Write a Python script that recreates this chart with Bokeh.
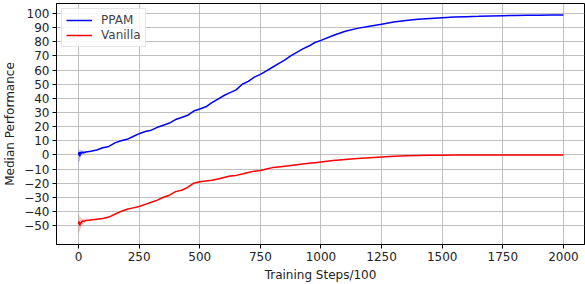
from bokeh.plotting import figure
from bokeh.models import FixedTicker, Range1d, Legend, LegendItem
from bokeh.embed import file_html
from bokeh.resources import INLINE

steps = [0, 2, 5, 8, 10, 15, 20, 30, 50, 75, 100, 125, 150, 175, 200, 225, 250, 275, 300,
         325, 350, 375, 400, 425, 450, 475, 500, 525, 550, 575, 600, 625, 650, 675, 700,
         725, 750, 775, 800, 825, 850, 875, 900, 925, 950, 975, 1000, 1050, 1100, 1150,
         1200, 1250, 1300, 1350, 1400, 1450, 1500, 1550, 1600, 1650, 1700, 1750, 1800,
         1850, 1900, 1950, 2000]

ppam = [0, 2, -1, 2, 1, 2, 1.5, 2, 2.5, 3.5, 5, 6, 8.5, 10, 11, 13, 15, 16.5, 17.5,
        19.5, 21, 22.5, 25, 26.5, 28, 31, 32.5, 34, 37, 39.5, 42, 44, 46, 50, 52,
        55, 57, 59.5, 62, 64.5, 67, 70, 72.5, 75, 77, 79.5, 81, 84.5, 87.5, 89.5,
        91, 92.5, 94, 95, 96, 96.5, 97, 97.5, 97.8, 98, 98.3, 98.5, 98.6,
        98.7, 98.8, 98.9, 99]

vanilla = [-49, -47, -50, -48, -48, -47, -47, -46.5, -46, -45.5, -45, -44, -42, -40, -38.5,
           -37.5, -36.5, -35, -33.5, -32, -30, -28.5, -26, -25, -23, -20, -19, -18.5, -18,
           -17, -16, -15, -14.5, -13.5, -12.5, -11.5, -11, -10, -9, -8.5, -8, -7.5, -7,
           -6.5, -6, -5.5, -5, -4, -3.2, -2.5, -2, -1.5, -1, -0.7, -0.5, -0.3, -0.2,
           -0.1, -0.1, 0, 0, 0, 0, 0, 0, 0, 0]

band_steps = [0, 2, 5, 8, 10, 15, 20, 30]
ppam_low = [-10, -4, -5, -1, -1, 0.5, 0.5, 1]
ppam_high = [5, 4, 3, 4, 3, 3.5, 3, 3]
van_low = [-57, -53, -55, -52, -51, -49, -48.5, -47.5]
van_high = [-42, -42, -44, -44, -45, -45, -45.5, -45.5]

x_ticks = [0, 250, 500, 750, 1000, 1250, 1500, 1750, 2000]
y_ticks = list(range(-50, 101, 10))

FONT = "DejaVu Sans"

p = figure(width=585, height=284, output_backend="svg", toolbar_location=None,
           x_range=Range1d(-91, 2087), y_range=Range1d(-63.4, 107.1),
           min_border_left=4, min_border_right=1, min_border_top=3, min_border_bottom=0)

p.varea(x=band_steps, y1=ppam_low, y2=ppam_high, fill_color="blue", fill_alpha=0.25)
p.varea(x=band_steps, y1=van_low, y2=van_high, fill_color="red", fill_alpha=0.25)
r1 = p.line(steps, ppam, line_color="blue", line_width=1.5)
r2 = p.line(steps, vanilla, line_color="red", line_width=1.5)

legend = Legend(items=[LegendItem(label="PPAM", renderers=[r1]),
                       LegendItem(label="Vanilla", renderers=[r2])],
                location="top_left")
legend.label_text_font = FONT
legend.label_text_font_size = "12px"
legend.border_line_color = "#cccccc"
legend.border_line_width = 1
legend.glyph_width = 26
legend.glyph_height = 14
legend.label_height = 14
legend.label_standoff = 9
legend.spacing = 1
legend.padding = 4
legend.margin = 5
legend.background_fill_alpha = 0.85
p.add_layout(legend)

p.xaxis.ticker = FixedTicker(ticks=x_ticks)
p.yaxis.ticker = FixedTicker(ticks=y_ticks)
p.xaxis.axis_label = "Training Steps/100"
p.yaxis.axis_label = "Median Performance"
for ax in (p.xaxis, p.yaxis):
    ax.axis_label_text_font = FONT
    ax.axis_label_text_font_size = "12px"
    ax.axis_label_text_font_style = "normal"
    ax.major_label_text_font = FONT
    ax.major_label_text_font_size = "12px"
    ax.major_label_text_color = "#222222"
    ax.axis_label_text_color = "#222222"
    ax.minor_tick_line_color = None
    ax.major_tick_out = 4
    ax.major_tick_in = 0
    ax.axis_line_color = "black"
    ax.axis_label_standoff = 4
p.yaxis.major_label_standoff = 3
p.xaxis.major_label_standoff = 3

p.xgrid.ticker = FixedTicker(ticks=x_ticks)
p.ygrid.ticker = FixedTicker(ticks=y_ticks)
p.grid.grid_line_color = "#b0b0b0"
p.grid.grid_line_width = 0.8
p.outline_line_color = "black"
p.outline_line_alpha = 1

open("out.html", "w").write(file_html(p, INLINE))
